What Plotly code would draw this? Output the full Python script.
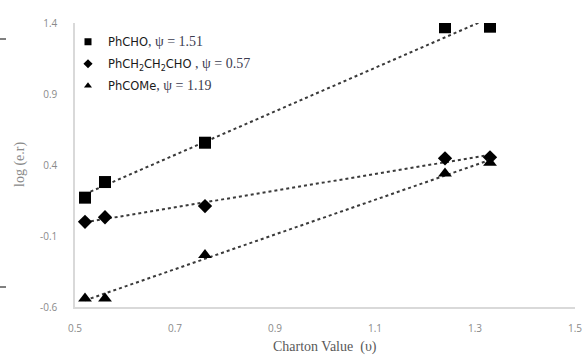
import numpy as np
import plotly.graph_objects as go

# Charton steric values of the substituents
charton = [0.52, 0.56, 0.76, 1.24, 1.33]

# log(e.r) measured for each substrate
phcho = [0.17, 0.28, 0.557, 1.37, 1.374]
phch2ch2cho = [0.0, 0.032, 0.111, 0.447, 0.454]
phcome = [-0.54, -0.54, -0.234, 0.341, 0.416]

psi_style = "font-family:Liberation Serif;font-size:14px;color:#3c3c50"
series_names = [
    f"PhCHO<span style='{psi_style}'>, ψ = 1.51</span>",
    f"PhCH<sub>2</sub>CH<sub>2</sub>CHO<span style='{psi_style}'> , ψ = 0.57</span>",
    f"PhCOMe<span style='{psi_style}'>, ψ = 1.19</span>",
]
series_values = [phcho, phch2ch2cho, phcome]
symbols = ["square", "diamond", "triangle-up"]
marker_sizes = [12, 11, 12]
legend_sizes = [7, 7, 7]

x_ticks = [0.5, 0.7, 0.9, 1.1, 1.3, 1.5]
y_ticks = [-0.6, -0.1, 0.4, 0.9, 1.4]

fig = go.Figure()

xs = np.array(charton)
for i, (name, ys) in enumerate(zip(series_names, series_values)):
    # least-squares trendline across the measured range
    slope, intercept = np.polyfit(xs, np.array(ys), 1)
    fx = np.array([xs.min(), xs.max()])
    fig.add_trace(go.Scatter(
        x=fx, y=slope * fx + intercept, mode="lines",
        line=dict(color="#3a3a3a", width=2, dash="dot"),
        showlegend=False, hoverinfo="skip"))
    fig.add_trace(go.Scatter(
        x=charton, y=ys, mode="markers",
        marker=dict(symbol=symbols[i], size=marker_sizes[i], color="black"),
        showlegend=False))
    # compact legend entry
    fig.add_trace(go.Scatter(
        x=[None], y=[None], mode="markers", name=name,
        legendgroup=f"g{i}",
        marker=dict(symbol=symbols[i], size=legend_sizes[i], color="black")))

axis_common = dict(
    showgrid=False, zeroline=False, automargin=False,
    showline=True, linecolor="#d9d9d9", linewidth=1.5,
    ticks="", tickfont=dict(family="Open Sans", size=10, color="#8a8a8a"),
)

fig.update_xaxes(
    range=[0.5, 1.5], tickvals=x_ticks, ticktext=[f"{v:.1f}" for v in x_ticks],
    ticklabelstandoff=11, **axis_common)
fig.update_yaxes(
    range=[-0.6, 1.4], tickvals=y_ticks, ticktext=[f"{v:.1f}" for v in y_ticks],
    ticklabelstandoff=14, **axis_common)

# axis titles
fig.add_annotation(text="Charton Value  (υ)", xref="paper", yref="paper",
                   x=0.5, y=-40 / 284, xanchor="center", yanchor="middle",
                   showarrow=False,
                   font=dict(family="Liberation Serif", size=14, color="#595959"))
fig.add_annotation(text="log (e.r)", xref="paper", yref="paper",
                   x=-55 / 500, y=0.5, xanchor="center", yanchor="middle",
                   textangle=-90, showarrow=False,
                   font=dict(family="Liberation Serif", size=14, color="#8a8a8a"))

# small edge marks on the left border
for yp in [39, 287]:
    fig.add_shape(type="line", xref="paper", yref="paper",
                  x0=-75 / 500, x1=-69 / 500,
                  y0=(307 - yp) / 284, y1=(307 - yp) / 284,
                  line=dict(color="black", width=1))

fig.update_layout(
    width=585, height=357,
    margin=dict(l=75, r=10, t=23, b=50),
    paper_bgcolor="white", plot_bgcolor="white",
    showlegend=True,
    legend=dict(x=-0.014, y=0.985, xanchor="left", yanchor="top",
                bgcolor="rgba(0,0,0,0)", tracegroupgap=3, itemwidth=30,
                font=dict(family="DejaVu Sans", size=11.5, color="#1a1a1a")),
)

fig.write_html("out.html")
